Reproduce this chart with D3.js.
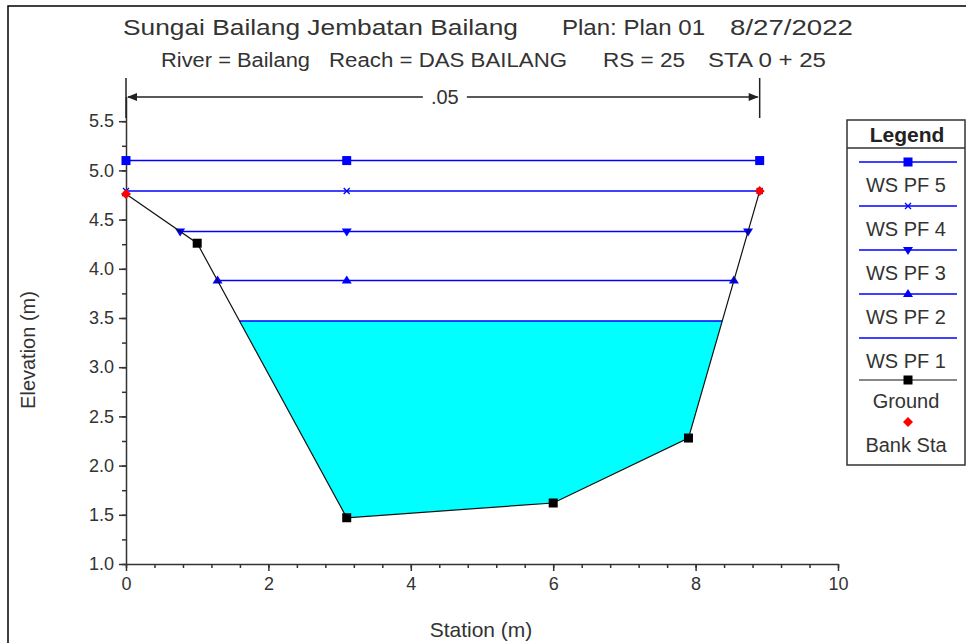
<!DOCTYPE html>
<html>
<head>
<meta charset="utf-8">
<script src="https://cdn.jsdelivr.net/npm/d3@7"></script>
<style>
  body { margin: 0; background: #fff; }
  svg { display: block; font-family: "Liberation Sans", Arial, sans-serif; }
</style>
</head>
<body>
<svg id="chart" width="966" height="643"></svg>
<script>
// ground cross section
const stations = [0, 1.0, 3.1, 6.0, 7.9, 8.9];
const elevations = [4.76, 4.26, 1.47, 1.62, 2.28, 4.79];
const bankStations = [0, 8.9];

// water surface profiles
const profileNames = ["WS PF 5", "WS PF 4", "WS PF 3", "WS PF 2", "WS PF 1"];
const profileWS = [5.10, 4.79, 4.38, 3.88, 3.47];
const profileMarkers = ["square", "cross", "triDown", "triUp", "none"];
const midMarkerStation = 3.1;

const manningN = [".05"];
const xTicks = [0, 2, 4, 6, 8, 10];
const yTicks = [1.0, 1.5, 2.0, 2.5, 3.0, 3.5, 4.0, 4.5, 5.0, 5.5];

const svg = d3.select("#chart");
const x = d3.scaleLinear().domain([0, 10]).range([126, 838]);
const y = d3.scaleLinear().domain([1, 5.75]).range([564, 96.6]);

const blue = "#0000ff";

// outer frame
svg.append("rect").attr("x", 8).attr("y", 6).attr("width", 980).attr("height", 660)
  .attr("fill", "none").attr("stroke", "#000").attr("stroke-width", 1.5);

// titles (fitted to the widths in the original)
const fitText = (g, txt, x0, x1, yy) =>
  g.append("text").attr("x", x0).attr("y", yy).attr("textLength", x1 - x0)
    .attr("lengthAdjust", "spacingAndGlyphs").text(txt);
const title = svg.append("g").attr("fill", "#333").style("font-size", "22px");
fitText(title, "Sungai Bailang Jembatan Bailang", 123, 518, 35);
fitText(title, "Plan: Plan 01", 562, 705, 35);
fitText(title, "8/27/2022", 730, 853, 35);
const sub = svg.append("g").attr("fill", "#333").style("font-size", "20px");
fitText(sub, "River = Bailang", 161, 310, 67);
fitText(sub, "Reach = DAS BAILANG", 329, 567, 67);
fitText(sub, "RS = 25", 603, 685, 67);
fitText(sub, "STA 0 + 25", 708, 826, 67);

// where a water level meets the ground on each side
function wsExtent(ws) {
  let left = stations[0], right = stations[stations.length - 1];
  if (elevations[0] > ws) {
    for (let i = 0; i < stations.length - 1; i++) {
      if (elevations[i] > ws && elevations[i + 1] <= ws) {
        const t = (elevations[i] - ws) / (elevations[i] - elevations[i + 1]);
        left = stations[i] + t * (stations[i + 1] - stations[i]);
        break;
      }
    }
  }
  const n = stations.length - 1;
  if (elevations[n] > ws) {
    for (let i = n; i > 0; i--) {
      if (elevations[i] > ws && elevations[i - 1] <= ws) {
        const t = (elevations[i] - ws) / (elevations[i] - elevations[i - 1]);
        right = stations[i] + t * (stations[i - 1] - stations[i]);
        break;
      }
    }
  }
  return [left, right];
}

// water fill for the lowest profile
const ws1 = profileWS[profileWS.length - 1];
const ext1 = wsExtent(ws1);
const poly = [[ext1[0], ws1]];
stations.forEach((s, i) => { if (s > ext1[0] && s < ext1[1]) poly.push([s, elevations[i]]); });
poly.push([ext1[1], ws1]);
svg.append("path")
  .attr("d", d3.line().x(d => x(d[0])).y(d => y(d[1]))(poly) + "Z")
  .attr("fill", "#00ffff");

// axes
svg.append("g").attr("transform", `translate(0,${y(1)})`)
  .call(d3.axisBottom(x).tickValues(xTicks).tickSize(7).tickSizeOuter(0).tickFormat(d3.format("d")).tickPadding(6));
svg.append("g").attr("transform", `translate(0,${y(1)})`)
  .call(d3.axisBottom(x).tickValues(d3.range(0, 10.01, 0.4)).tickSize(4).tickFormat(""))
  .select(".domain").remove();
svg.append("g").attr("transform", `translate(${x(0)},0)`)
  .call(d3.axisLeft(y).tickValues(yTicks).tickSize(7).tickSizeOuter(0).tickFormat(d3.format(".1f")).tickPadding(5));
svg.append("g").attr("transform", `translate(${x(0)},0)`)
  .call(d3.axisLeft(y).tickValues(d3.range(1, 5.51, 0.25)).tickSize(4).tickFormat(""))
  .select(".domain").remove();
svg.selectAll(".domain, .tick line").attr("stroke", "#333").attr("stroke-width", 1.5);
svg.selectAll(".tick text").attr("fill", "#333").style("font-size", "18px");

svg.append("text").attr("x", 481).attr("y", 637).attr("text-anchor", "middle")
  .attr("fill", "#333").style("font-size", "21px").text("Station (m)");
svg.append("text").attr("transform", "translate(35,350) rotate(-90)").attr("text-anchor", "middle")
  .attr("fill", "#333").style("font-size", "20px").text("Elevation (m)");

// Manning's n dimension line between bank stations
const nY = 97, nx0 = x(bankStations[0]), nx1 = x(bankStations[1]), nMid = (nx0 + nx1) / 2;
const dim = svg.append("g").attr("stroke", "#222").attr("stroke-width", 1.5);
dim.append("line").attr("x1", nx0).attr("x2", nx0).attr("y1", 78).attr("y2", 118);
dim.append("line").attr("x1", nx1).attr("x2", nx1).attr("y1", 78).attr("y2", 118);
dim.append("line").attr("x1", nx0 + 2).attr("x2", nMid - 20).attr("y1", nY).attr("y2", nY);
dim.append("line").attr("x1", nMid + 24).attr("x2", nx1 - 2).attr("y1", nY).attr("y2", nY);
dim.append("path").attr("d", `M${nx0 + 1},${nY}l10,-4v8z`).attr("fill", "#222").attr("stroke", "none");
dim.append("path").attr("d", `M${nx1 - 1},${nY}l-10,-4v8z`).attr("fill", "#222").attr("stroke", "none");
svg.append("text").attr("x", nMid + 2).attr("y", nY + 7).attr("text-anchor", "middle")
  .attr("fill", "#333").style("font-size", "20px").text(manningN[0]);

// marker drawing
function drawMarker(g, type, cx, cy, color) {
  if (type === "square") {
    g.append("rect").attr("x", cx - 4.5).attr("y", cy - 4.5).attr("width", 9).attr("height", 9).attr("fill", color);
  } else if (type === "cross") {
    g.append("path").attr("d", `M${cx - 3},${cy - 3}L${cx + 3},${cy + 3}M${cx - 3},${cy + 3}L${cx + 3},${cy - 3}`)
      .attr("stroke", color).attr("stroke-width", 1.3).attr("fill", "none");
  } else if (type === "triDown") {
    g.append("path").attr("d", `M${cx - 5},${cy - 3}L${cx + 5},${cy - 3}L${cx},${cy + 5}Z`).attr("fill", color);
  } else if (type === "triUp") {
    g.append("path").attr("d", `M${cx - 5},${cy + 3}L${cx + 5},${cy + 3}L${cx},${cy - 5}Z`).attr("fill", color);
  } else if (type === "diamond") {
    g.append("path").attr("d", `M${cx},${cy - 5}L${cx + 5},${cy}L${cx},${cy + 5}L${cx - 5},${cy}Z`).attr("fill", color);
  }
}

// water surface lines
const wsG = svg.append("g");
profileWS.forEach((ws, i) => {
  const [l, r] = wsExtent(ws);
  wsG.append("line").attr("x1", x(l)).attr("x2", x(r)).attr("y1", y(ws)).attr("y2", y(ws))
    .attr("stroke", blue).attr("stroke-width", 1.5);
  if (profileMarkers[i] !== "none") {
    [l, midMarkerStation, r].forEach(s => drawMarker(wsG, profileMarkers[i], x(s), y(ws), blue));
  }
});

// ground line
const groundG = svg.append("g");
groundG.append("path")
  .attr("d", d3.line().x((d, i) => x(stations[i])).y((d, i) => y(elevations[i]))(stations))
  .attr("fill", "none").attr("stroke", "#111").attr("stroke-width", 1.2);
stations.forEach((s, i) => {
  if (!bankStations.includes(s)) drawMarker(groundG, "square", x(s), y(elevations[i]), "#000");
});
stations.forEach((s, i) => {
  if (bankStations.includes(s)) drawMarker(groundG, "diamond", x(s), y(elevations[i]), "#ff0000");
});

// legend
const lg = svg.append("g");
lg.append("rect").attr("x", 847).attr("y", 120).attr("width", 118).attr("height", 345)
  .attr("fill", "#fff").attr("stroke", "#333").attr("stroke-width", 1.5);
lg.append("line").attr("x1", 847).attr("x2", 965).attr("y1", 148).attr("y2", 148)
  .attr("stroke", "#333").attr("stroke-width", 1.5);
lg.append("text").attr("x", 907).attr("y", 142).attr("text-anchor", "middle")
  .attr("fill", "#222").style("font-size", "21px").style("font-weight", "bold").text("Legend");
const lx0 = 859, lx1 = 957, lcx = 908;
profileNames.forEach((name, i) => {
  const ly = 162 + i * 44;
  lg.append("line").attr("x1", lx0).attr("x2", lx1).attr("y1", ly).attr("y2", ly)
    .attr("stroke", blue).attr("stroke-width", 1.5);
  drawMarker(lg, profileMarkers[i], lcx, ly, blue);
  lg.append("text").attr("x", 906).attr("y", ly + 30).attr("text-anchor", "middle")
    .attr("fill", "#333").style("font-size", "20px").text(name);
});
lg.append("line").attr("x1", lx0).attr("x2", lx1).attr("y1", 380).attr("y2", 380)
  .attr("stroke", "#111").attr("stroke-width", 1.2);
drawMarker(lg, "square", lcx, 380, "#000");
lg.append("text").attr("x", 906).attr("y", 408).attr("text-anchor", "middle")
  .attr("fill", "#333").style("font-size", "20px").text("Ground");
drawMarker(lg, "diamond", lcx, 422, "#ff0000");
lg.append("text").attr("x", 906).attr("y", 452).attr("text-anchor", "middle")
  .attr("fill", "#333").style("font-size", "20px").text("Bank Sta");
</script>
</body>
</html>
